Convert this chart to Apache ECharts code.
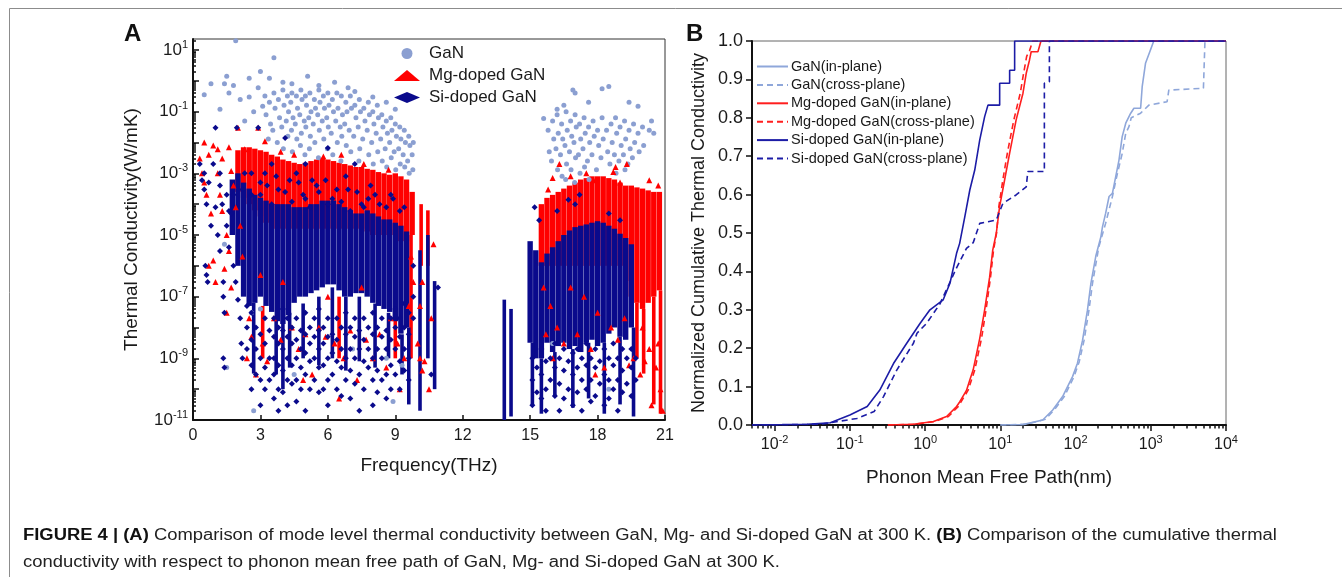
<!DOCTYPE html>
<html>
<head>
<meta charset="utf-8">
<title>Figure 4</title>
<script src="https://cdn.jsdelivr.net/npm/echarts@6.0.0/dist/echarts.min.js"></script>
<style>
html, body { margin: 0; padding: 0; background: #fff; }
#chart { width: 1342px; height: 577px; }
</style>
</head>
<body>
<div id="chart"></div>
<script>
// ---- panel A: mode level thermal conductivity, [frequency THz, W/mK] ----
const ganCloud1 = [
  [3.2,0.32],[3.25,0.08],[3.4,0.2],[3.45,0.04],[3.35,0.013],[3.6,0.4],[3.65,0.13],[3.55,0.025],
  [3.8,0.25],[3.85,0.063],[3.75,0.01],[4.0,0.5],[4.05,0.16],[3.95,0.032],[4.02,0.0063],
  [4.2,0.32],[4.25,0.1],[4.15,0.05],[4.22,0.016],[4.4,0.4],[4.35,0.2],[4.45,0.063],[4.38,0.025],[4.42,0.005],
  [4.6,0.32],[4.65,0.13],[4.55,0.04],[4.62,0.013],[4.8,0.5],[4.85,0.25],[4.75,0.08],[4.82,0.02],[4.78,0.008],
  [5.0,0.32],[5.05,0.16],[4.95,0.05],[5.02,0.032],[4.98,0.004],[5.2,0.4],[5.25,0.1],[5.15,0.063],[5.22,0.016],[5.18,0.0063],
  [5.4,0.25],[5.45,0.13],[5.35,0.04],[5.42,0.01],[5.6,0.5],[5.65,0.2],[5.55,0.08],[5.62,0.025],[5.58,0.0032],
  [5.8,0.32],[5.85,0.13],[5.75,0.05],[5.82,0.013],[6.0,0.4],[6.05,0.16],[5.95,0.063],[6.02,0.032],[5.98,0.0063],
  [6.2,0.25],[6.25,0.1],[6.15,0.02],[6.22,0.004],[6.4,0.4],[6.45,0.13],[6.35,0.05],[6.42,0.01],
  [6.6,0.32],[6.65,0.08],[6.55,0.032],[6.62,0.016],[6.58,0.0025],[6.8,0.2],[6.85,0.1],[6.75,0.04],[6.82,0.008],
  [7.0,0.32],[7.05,0.13],[6.95,0.025],[7.02,0.005],[7.2,0.16],[7.25,0.063],[7.15,0.016],
  [7.4,0.25],[7.45,0.1],[7.35,0.032],[7.42,0.0063],[7.38,0.0025],[7.6,0.13],[7.65,0.05],[7.55,0.013],
  [7.8,0.2],[7.85,0.08],[7.75,0.025],[7.82,0.004],[8.0,0.1],[8.05,0.04],[7.95,0.01],[8.02,0.002],
  [8.2,0.16],[8.25,0.063],[8.15,0.02],[8.22,0.005],[8.4,0.08],[8.45,0.032],[8.35,0.013],[8.42,0.0025],
  [8.6,0.05],[8.65,0.02],[8.55,0.0063],[8.62,0.0016],[8.8,0.063],[8.85,0.025],[8.75,0.01],[8.82,0.0032],
  [9.0,0.04],[9.05,0.016],[8.95,0.005],[9.02,0.0013],[9.2,0.032],[9.25,0.013],[9.15,0.0063],[9.22,0.002],
  [9.4,0.025],[9.45,0.01],[9.35,0.004],[9.42,0.0016],[9.6,0.016],[9.65,0.008],[9.55,0.0025],[9.62,0.001],
  [9.8,0.01],[9.75,0.004],[9.78,0.0013]
];
const ganOutliers = [
  [1.9,20],[3.6,5.6],[3.0,2],[1.5,1.4],[0.8,0.8],[1.4,0.8],[1.8,0.7],[2.5,1.2],[3.4,1.2],[5.1,1.4],
  [6.3,0.9],[7.2,0.45],[4.4,0.8],[1.6,0.4],[2.1,0.25],[2.5,0.3],[0.5,0.35],[2.9,0.6],[4.0,0.9],[5.6,0.7],
  [6.9,0.6],[8.0,0.3],[2.7,0.1],[3.1,0.15],[2.3,0.05],[1.2,0.12],[8.6,0.2],[9.0,0.12],
  [16.9,0.5],[17.0,0.4],[18.5,0.65],[18.2,0.55],[19.8,0.15],[19.4,0.2],[15.6,0.06],[20.4,0.05],[20.5,0.02],
  [16.2,0.12],[17.6,0.2],[16.5,0.16],
  [1.4,5e-6],[3.0,4e-8],[2.7,2e-11],[8.9,4e-11],[1.5,5e-10],[4.5,3e-10],[7.1,2e-9],[9.3,6e-10],
  [16.0,3e-9],[18.5,1e-10],[2.6,3e-8],[8.6,1e-9]
];
const ganCloud2 = [
  [15.8,0.025],[15.85,0.005],[16.0,0.05],[16.05,0.013],[15.95,0.0025],[16.2,0.08],[16.25,0.02],[16.15,0.0063],[16.22,0.0013],
  [16.4,0.04],[16.45,0.013],[16.35,0.004],[16.42,8e-4],[16.6,0.1],[16.65,0.025],[16.55,0.008],[16.62,0.002],[16.58,6.3e-4],
  [16.8,0.05],[16.85,0.016],[16.75,0.005],[16.82,0.0013],[17.0,0.08],[17.05,0.032],[16.95,0.01],[17.02,0.0032],[16.98,5e-4],
  [17.2,0.04],[17.25,0.013],[17.15,0.004],[17.22,0.001],[17.4,0.063],[17.45,0.02],[17.35,0.0063],[17.42,0.0016],
  [17.6,0.032],[17.65,0.01],[17.55,0.0025],[17.62,6.3e-4],[17.8,0.05],[17.85,0.016],[17.75,0.004],
  [18.0,0.025],[18.05,0.008],[17.95,0.0013],[18.2,0.063],[18.25,0.013],[18.15,0.0032],[18.4,0.025],[18.45,0.005],
  [18.6,0.04],[18.65,0.01],[18.55,0.002],[18.8,0.063],[18.85,0.02],[18.75,0.004],[18.82,0.001],
  [19.0,0.032],[19.05,0.008],[18.95,0.0025],[19.2,0.05],[19.25,0.013],[19.15,0.004],[19.22,0.0013],
  [19.4,0.025],[19.45,0.0063],[19.35,0.002],[19.6,0.04],[19.65,0.01],[19.55,0.0032],
  [19.8,0.02],[19.85,0.005],[20.0,0.032],[20.05,0.008],[20.3,0.025]
];

// dense parts of the Mg / Si clouds: [frequency, lowest, highest] of each packed column
const mgCore = [
  [2.0,2.5e-4,5.6e-3],[2.25,1.6e-4,7e-3],[2.5,1e-4,7e-3],[2.75,6.3e-5,6.3e-3],[3.0,4e-5,5.6e-3],[3.25,2.5e-5,5e-3],
  [3.5,1.6e-5,4e-3],[3.75,1.6e-5,3.5e-3],[4.0,1.6e-5,2.8e-3],[4.25,1.6e-5,2.5e-3],[4.5,1.6e-5,2.2e-3],[4.75,1.6e-5,2e-3],
  [5.0,1.6e-5,2.2e-3],[5.25,1.6e-5,2.5e-3],[5.5,1.6e-5,2.8e-3],[5.75,1.6e-5,3.2e-3],[6.0,1.6e-5,2.8e-3],[6.25,1.6e-5,2.5e-3],
  [6.5,1.6e-5,2.2e-3],[6.75,1.6e-5,2e-3],[7.0,1.6e-5,1.8e-3],[7.25,1.6e-5,1.6e-3],[7.5,1.6e-5,1.6e-3],[7.75,1.3e-5,1.4e-3],
  [8.0,1e-5,1.3e-3],[8.25,1e-5,1.1e-3],[8.5,1e-5,1e-3],[8.75,1e-5,9e-4],[9.0,1e-5,1e-3],[9.25,6.3e-6,8e-4],
  [9.5,6.3e-6,6.3e-4],[9.75,1e-5,2.5e-4],
  [15.5,1e-6,1e-4],[15.75,1e-6,1.6e-4],[16.0,1e-6,2e-4],[16.25,1e-6,2.5e-4],[16.5,1e-6,3.2e-4],[16.75,1e-6,4e-4],
  [17.0,1e-6,5e-4],[17.25,1e-6,6.3e-4],[17.5,1e-6,7e-4],[17.75,1e-6,8e-4],[18.0,1e-6,8e-4],[18.25,1e-6,8e-4],
  [18.5,1e-6,7e-4],[18.75,1e-6,6.3e-4],[19.0,1e-6,5e-4],[19.25,3.2e-7,4e-4],[19.5,1e-7,4e-4],[19.75,6.3e-8,3.5e-4],
  [20.0,4e-8,3.2e-4],[20.25,6.3e-8,2.8e-4],[20.5,1e-7,2.5e-4],[20.75,1.6e-7,2.5e-4]
];
const mgStreaks = [
  [10.15,1e-6,1e-4],[10.45,1e-6,6.3e-5],[9.7,1e-9,1e-5],[19.75,1e-9,6.3e-8],[20.05,3.2e-10,4e-8],
  [20.5,3.2e-11,1e-7],[20.8,1.6e-11,1.6e-7],[3.1,1e-9,5e-8],[6.5,1e-9,1e-7],[9.0,1e-9,1e-7]
];
const mgPts = [
  [0.5,1e-2],[0.9,8e-3],[1.1,6e-3],[2.0,3e-2],[2.9,3e-2],[3.2,1.1e-2],[1.6,7e-3],[0.7,4e-3],[1.3,3e-3],[2.3,6e-3],
  [3.9,5e-3],[4.5,4e-3],[5.8,3.5e-3],[6.6,4e-3],[7.6,2e-3],[8.7,1.3e-3],
  [0.4,1e-3],[0.6,2e-4],[0.8,5e-5],[0.7,1e-6],[0.9,1.5e-6],[1.0,3e-7],[1.2,2e-4],[1.3,6e-5],[1.5,1e-5],[1.6,3e-6],
  [1.8,4e-4],[1.9,8e-5],[2.1,2e-5],[1.4,8e-7],[1.5,3e-8],[1.7,2e-7],[2.2,2e-6],[0.5,5e-4],[1.1,1e-3],[1.7,1.2e-3],[0.3,3e-3],
  [2.5,2e-8],[2.6,5e-9],[2.4,1e-9],[3.1,3e-9],[3.3,8e-10],[3.6,2e-8],[3.9,4e-9],[4.4,1e-8],[4.7,2e-9],[5.0,6e-9],
  [5.3,3e-10],[5.6,1e-8],[5.9,5e-9],[6.3,3e-9],[6.7,1e-9],[7.0,8e-9],[7.3,2e-10],[7.7,4e-9],[8.0,1e-9],[8.3,6e-9],
  [8.6,5e-10],[8.8,2e-8],[9.1,3e-9],[9.4,1e-9],[9.6,5e-8],[9.8,3e-7],[9.7,2e-6],[3.0,5e-7],[4.0,3e-7],[6.0,1e-7],
  [7.5,2e-7],[4.9,2e-10],[6.5,5e-11],[9.2,1e-10],[2.8,3e-10],
  [10.0,3e-9],[10.1,1e-9],[10.3,8e-10],[10.6,2e-8],[10.7,5e-6],[10.2,4e-10],[10.5,1e-10],[10.2,3e-7],[10.1,5e-8],
  [16.3,2e-3],[17.5,1e-3],[18.7,1.1e-3],[18.8,1.6e-3],[19.3,2e-3],[16.8,8e-4],[17.9,6e-4],[20.3,6e-4],[20.7,4e-4],
  [15.8,3e-4],[19.0,5e-4],[16.0,7e-4],
  [15.6,2e-7],[15.9,5e-8],[16.2,1e-8],[16.5,3e-9],[16.8,2e-7],[17.1,6e-9],[17.4,1e-7],[17.7,2e-9],[18.0,3e-8],
  [18.3,5e-10],[18.6,1e-8],[18.9,4e-9],[19.2,2e-8],[19.4,6e-10],[19.6,1e-9],[19.9,3e-10],[20.1,8e-10],[20.3,2e-9],
  [20.6,5e-10],[20.8,1e-10],[20.9,2e-11],[20.4,3e-11],[16.0,1e-9],[17.9,3e-10],[15.7,6e-9],[20.0,1e-8],[20.7,3e-9]
];
const siCore = [
  [1.75,1e-5,6.3e-4],[2.0,1e-6,1e-3],[2.25,1e-7,5e-4],[2.5,5e-8,3.2e-4],[2.75,6.3e-8,2e-4],[3.0,1e-7,1.6e-4],
  [3.25,5e-8,1.3e-4],[3.5,3.2e-8,1e-4],[3.75,1.6e-8,1e-4],[4.0,1.3e-8,1e-4],[4.25,2.5e-8,1e-4],[4.5,6.3e-8,8e-5],
  [4.75,1e-7,8e-5],[5.0,1e-7,8e-5],[5.25,1.3e-7,1e-4],[5.5,1.6e-7,1e-4],[5.75,2e-7,1.3e-4],[6.0,2.5e-7,1.3e-4],
  [6.25,2.5e-7,1.3e-4],[6.5,1.6e-7,1e-4],[6.75,1e-7,8e-5],[7.0,1e-7,6.3e-5],[7.25,1.3e-7,5e-5],[7.5,1.3e-7,5e-5],
  [7.75,1e-7,6.3e-5],[8.0,6.3e-8,5e-5],[8.25,5e-8,4e-5],[8.5,4e-8,3.2e-5],[8.75,3.2e-8,3.2e-5],[9.0,1.6e-8,2.5e-5],
  [9.25,6.3e-9,2e-5],[9.5,1e-8,1.3e-5],
  [15.0,3.2e-9,6.3e-6],[15.25,1e-9,3.2e-6],[15.5,1e-9,1.3e-6],[15.75,3.2e-9,2.5e-6],[16.0,1.6e-9,4e-6],[16.25,2.5e-9,6.3e-6],
  [16.5,3.2e-9,1e-5],[16.75,2e-9,1.4e-5],[17.0,2.5e-9,1.8e-5],[17.25,1.6e-9,2e-5],[17.5,3.2e-9,2.2e-5],[17.75,4e-9,2.5e-5],
  [18.0,2.5e-9,2.8e-5],[18.25,3.2e-9,2.5e-5],[18.5,6.3e-9,2e-5],[18.75,1e-8,1.6e-5],[19.0,5e-9,1.1e-5],[19.25,4e-9,8e-6],
  [19.5,1e-8,5e-6]
];
const siStreaks = [
  [2.7,3.2e-10,6.3e-8],[4.0,1e-10,1.3e-8],[9.6,3.2e-11,1e-8],[10.1,2e-11,3.2e-6],[10.45,1e-9,1e-5],[10.75,1e-10,3.2e-7],
  [13.85,1e-11,8e-8],[14.15,1.3e-11,4e-8],[15.1,3.2e-11,3.2e-9],[15.5,1.6e-11,1e-9],[16.1,6.3e-11,1.6e-9],
  [16.9,2.5e-11,2e-9],[17.6,5e-11,3.2e-9],[18.3,1.6e-11,3.2e-9],[19.0,3.2e-11,5e-9],[19.6,1.3e-11,1e-8],
  [3.7,3e-10,2e-8],[4.3,5e-10,3e-8],[4.9,1e-9,6e-8],[5.6,6e-10,1e-7],[6.2,1e-9,2e-7],[6.8,4e-10,1e-7],
  [7.4,8e-10,1e-7],[8.1,5e-10,6e-8],[8.7,1e-9,3e-8],[9.3,3e-10,6e-9]
];
const siPts = [
  [1.0,3e-2],[1.95,3e-2],[2.9,3e-2],[4.1,1.4e-2],[6.0,6.6e-3],[0.5,1e-3],[0.3,2e-3],[0.7,5e-4],[1.2,1e-3],[1.5,2e-4],
  [2.3,1e-3],[3.5,2e-3],[4.6,1e-3],[5.3,6e-4],[6.8,8e-4],[7.9,4e-4],[8.8,2e-4],[5.0,2e-3],[3.0,5e-4],[2.6,2e-4],[7.2,2e-3],
  [3.2,1e-3],[3.8,3e-4],[4.3,6e-4],[4.9,2e-4],[5.5,4e-4],[6.2,1.5e-4],[6.9,3e-4],[7.5,1e-4],[8.1,2e-4],[8.6,8e-5],
  [9.2,6e-5],[3.5,1e-4],[5.2,8e-5],[7.0,6e-5],
  [2.6,1e-3],[3.3,4e-4],[3.7,8e-4],[4.1,2.5e-4],[4.7,5e-4],[5.0,1.5e-4],[5.6,2.5e-4],[5.9,6e-4],[6.4,3e-4],[6.6,1.2e-4],
  [7.3,2.5e-4],[7.8,1.5e-4],[8.3,1e-4],[8.9,1.5e-4],[9.4,8e-5],[4.4,1.2e-4],[6.0,1e-4],[7.6,8e-5],[3.0,2e-4],[2.2,3e-4],
  [0.4,6e-4],[0.5,3e-4],[0.6,1e-4],[0.55,1e-6],[0.6,5e-7],[0.65,3e-7],[0.8,2e-5],[1.0,8e-5],[1.1,1e-5],[1.2,3e-6],
  [1.3,1e-4],[1.35,3e-7],[1.35,1e-7],[1.4,3e-8],[1.35,1e-9],[1.4,5e-10],[1.5,2e-5],[1.6,4e-6],[1.7,5e-5],[1.8,1e-6],
  [1.9,3e-7],[2.0,8e-8],[2.1,2e-8],[2.15,3e-9],[2.2,1e-9],[1.6,6e-5],[1.8,2e-4],[1.2,4e-4],[0.9,2e-3],
  [2.4,5e-8],[2.4,1e-8],[2.4,2e-9],[2.6,3e-8],[2.6,4e-9],[2.6,6e-10],[2.6,1e-10],[2.8,1e-8],[2.8,2e-9],[2.8,3e-10],
  [3.0,6e-9],[3.0,1e-9],[3.0,2e-10],[3.0,3e-11],[3.2,2e-8],[3.2,3e-9],[3.2,5e-10],[3.2,1e-10],[3.4,8e-9],[3.4,1e-9],[3.4,2e-10],
  [3.6,2e-8],[3.6,5e-9],[3.6,1e-9],[3.6,3e-10],[3.6,5e-11],[3.8,1e-8],[3.8,3e-9],[3.8,6e-10],[3.8,1e-10],[3.8,2e-11],
  [4.0,4e-8],[4.0,8e-9],[4.0,2e-9],[4.0,4e-10],[4.0,8e-11],[4.2,2e-8],[4.2,5e-9],[4.2,1e-9],[4.2,2e-10],[4.2,3e-11],
  [4.4,1e-8],[4.4,3e-9],[4.4,6e-10],[4.4,1.5e-10],[4.6,2e-8],[4.6,4e-9],[4.6,1e-9],[4.6,2e-10],[4.6,4e-11],
  [4.8,8e-9],[4.8,2e-9],[4.8,5e-10],[4.8,1e-10],[5.0,3e-8],[5.0,6e-9],[5.0,1.5e-9],[5.0,3e-10],[5.0,2e-11],
  [5.2,1e-8],[5.2,3e-9],[5.2,8e-10],[5.2,1e-10],[5.4,2e-8],[5.4,5e-9],[5.4,1e-9],[5.4,2e-10],
  [5.6,4e-8],[5.6,8e-9],[5.6,2e-9],[5.6,5e-10],[5.6,8e-11],[5.8,1e-8],[5.8,3e-9],[5.8,6e-10],[5.8,1e-10],
  [6.0,2e-8],[6.0,5e-9],[6.0,1e-9],[6.0,2e-10],[6.0,3e-11],[6.2,6e-9],[6.2,1.5e-9],[6.2,3e-10],
  [6.4,2e-8],[6.4,4e-9],[6.4,8e-10],[6.4,1e-10],[6.6,1e-8],[6.6,2e-9],[6.6,5e-10],[6.6,6e-11],
  [6.8,3e-8],[6.8,6e-9],[6.8,1e-9],[6.8,2e-10],[7.0,1e-8],[7.0,2e-9],[7.0,4e-10],[7.0,5e-11],
  [7.2,2e-8],[7.2,5e-9],[7.2,1e-9],[7.2,1.5e-10],[7.4,8e-9],[7.4,2e-9],[7.4,3e-10],[7.4,2e-11],
  [7.6,2e-8],[7.6,4e-9],[7.6,8e-10],[7.6,1e-10],[7.8,1e-8],[7.8,2e-9],[7.8,5e-10],
  [8.0,3e-8],[8.0,6e-9],[8.0,1e-9],[8.0,2e-10],[8.0,3e-11],[8.2,1e-8],[8.2,2e-9],[8.2,4e-10],[8.2,8e-11],
  [8.4,2e-8],[8.4,5e-9],[8.4,1e-9],[8.4,2e-10],[8.6,8e-9],[8.6,2e-9],[8.6,3e-10],[8.6,5e-11],
  [8.8,2e-8],[8.8,4e-9],[8.8,6e-10],[8.8,1e-10],[9.0,4e-8],[9.0,1e-8],[9.0,2e-9],[9.0,3e-10],
  [9.2,2e-8],[9.2,5e-9],[9.2,8e-10],[9.2,1e-10],[9.4,6e-8],[9.4,1e-8],[9.4,2e-9],[9.4,4e-10],
  [9.6,3e-8],[9.6,6e-9],[9.6,1e-9],[9.6,2e-10],[9.8,1e-6],[9.8,1e-7],[9.8,2e-8],[10.9,2e-7],[10.6,3e-10],
  [15.2,8e-5],[16.7,1.4e-4],[17.0,1e-4],[17.2,2e-4],[15.4,3e-5],[18.5,5e-5],[19.0,3e-5],[16.2,6e-5],
  [15.1,1e-9],[15.1,2e-10],[15.1,3e-11],[15.3,5e-10],[15.3,8e-11],[15.5,2e-9],[15.5,3e-10],[15.5,5e-11],
  [15.7,8e-10],[15.7,1e-10],[15.7,2e-11],[15.9,1e-9],[15.9,2e-10],[16.1,3e-9],[16.1,5e-10],[16.1,6e-11],
  [16.3,1e-9],[16.3,1.5e-10],[16.3,2e-11],[16.5,2e-9],[16.5,4e-10],[16.5,5e-11],[16.7,8e-10],[16.7,1e-10],
  [16.9,1.5e-9],[16.9,3e-10],[16.9,3e-11],[17.1,2e-9],[17.1,5e-10],[17.1,8e-11],[17.3,1e-9],[17.3,2e-10],[17.3,2e-11],
  [17.5,3e-9],[17.5,6e-10],[17.5,1e-10],[17.7,1e-9],[17.7,2e-10],[17.7,4e-11],[17.9,2e-9],[17.9,5e-10],[17.9,6e-11],
  [18.1,8e-10],[18.1,1.5e-10],[18.3,2e-9],[18.3,3e-10],[18.3,3e-11],[18.5,1e-9],[18.5,2e-10],[18.5,5e-11],
  [18.7,3e-9],[18.7,6e-10],[18.7,1e-10],[18.9,1e-9],[18.9,2e-10],[18.9,2e-11],[19.1,2e-9],[19.1,4e-10],[19.1,8e-11],
  [19.3,1e-9],[19.3,1.5e-10],[19.5,2e-9],[19.5,5e-10],[19.5,6e-11],[19.7,1e-9],[19.7,2e-10]
];

// ---- panel B: normalized cumulative conductivity vs mean free path, [nm, fraction] ----
const ganIn = [
  [10,0],[20,0.001],[36.6,0.013],[49.7,0.039],[67.3,0.074],[91.2,0.126],[106,0.161],[124,0.221],[144,0.299],
  [160,0.369],[186,0.44],[217,0.49],[228,0.516],[251,0.551],[279,0.595],[309,0.603],[342,0.647],[378,0.69],
  [417,0.751],[465,0.786],[541,0.812],[597,0.825],[733,0.825],[769,0.881],[851,0.942],[993,0.977],[1096,1],[10000,1]
];
const ganCross = [
  [10,0],[22.4,0.002],[39.8,0.015],[52.5,0.04],[70.8,0.074],[95.5,0.126],[112,0.165],[130,0.221],[151,0.3],
  [168,0.369],[204,0.464],[251,0.525],[309,0.595],[360,0.655],[417,0.707],[465,0.76],[513,0.777],[550,0.8],
  [733,0.812],[944,0.833],[1648,0.842],[1738,0.872],[5012,0.877],[5250,1],[10000,1]
];
const mgIn = [
  [0.32,0],[0.7,0.002],[1.29,0.009],[1.93,0.022],[2.62,0.048],[2.88,0.06],[3.55,0.09],[3.93,0.117],[4.35,0.143],
  [5.01,0.2],[5.32,0.225],[6.19,0.3],[7.21,0.385],[7.94,0.456],[8.85,0.5],[9.77,0.568],[11.4,0.638],[13.3,0.708],
  [16.2,0.794],[20,0.864],[22.1,0.916],[24.4,0.95],[25.7,0.972],[31.6,0.972],[34.7,1],[10000,1]
];
const mgCross = [
  [0.32,0],[0.74,0.002],[1.35,0.009],[2.04,0.022],[2.75,0.048],[3.72,0.09],[4.57,0.143],[5.62,0.225],[6.46,0.3],
  [7.41,0.385],[8.13,0.456],[8.91,0.5],[9.55,0.568],[10.8,0.638],[12.4,0.708],[15.1,0.794],[18.4,0.864],
  [20.4,0.916],[22.4,0.96],[24.5,0.975],[26.9,1],[10000,1]
];
const siIn = [
  [0.005,0],[0.0126,0.001],[0.027,0.002],[0.055,0.006],[0.1,0.026],[0.17,0.048],[0.25,0.091],[0.38,0.16],
  [0.57,0.213],[0.86,0.265],[1.16,0.3],[1.74,0.326],[2.14,0.369],[2.62,0.447],[2.88,0.473],[3.37,0.542],
  [3.93,0.612],[4.57,0.664],[5.32,0.742],[6.19,0.803],[6.85,0.833],[9.8,0.833],[9.8,0.89],[13.3,0.89],
  [13.3,0.924],[15.5,0.924],[15.5,1],[10000,1]
];
const siCross = [
  [0.005,0],[0.02,0.001],[0.041,0.002],[0.124,0.017],[0.21,0.035],[0.28,0.074],[0.42,0.143],[0.7,0.213],
  [0.78,0.239],[1.05,0.265],[1.57,0.315],[2.63,0.41],[3.55,0.46],[4.37,0.475],[5.32,0.525],[8.85,0.534],
  [10.8,0.577],[16.2,0.599],[22.1,0.62],[23.2,0.66],[38.5,0.66],[38.5,0.89],[44.9,0.894],[44.9,1],[10000,1]
];

// tick values
const kDecades = [1e-11,1e-10,1e-9,1e-8,1e-7,1e-6,1e-5,1e-4,1e-3,1e-2,1e-1,1,10];
const kLabels = [1e-11,1e-9,1e-7,1e-5,1e-3,1e-1,10];
const mfpDecades = [0.01,0.1,1,10,100,1000,10000];
const minorSteps = [2,3,4,5,6,7,8,9];

const captionLine1 = '{b|FIGURE 4 | (A)} Comparison of mode level thermal conductivity between GaN, Mg- and Si-doped GaN at 300 K. {b|(B)} Comparison of the cumulative thermal';
const captionLine2 = 'conductivity with respect to phonon mean free path of GaN, Mg- and Si-doped GaN at 300 K.';

const FONT = '"Liberation Sans", Arial, Helvetica, sans-serif';
const INK = '#1a1a1a';
const GAN = '#8b9fd1', MG = '#ff0000', SI = '#0a0a8c';
const GAN_L = '#8fa7da', MG_L = '#ff1e1e', SI_L = '#1c1ca6';

function minorOf(decades) {
  const out = [];
  decades.forEach(d => minorSteps.forEach(s => out.push(d * s)));
  return out;
}
const kMinor = minorOf([1e-11,1e-10,1e-9,1e-8,1e-7,1e-6,1e-5,1e-4,1e-3,1e-2,1e-1,1,10]);
const mfpMinor = minorOf([0.001,0.01,0.1,1,10,100,1000]);

function powLabel(v) {
  return '10{sup|' + Math.round(Math.log10(v)) + '}';
}
const supRich = { sup: { fontSize: 11, lineHeight: 12, verticalAlign: 'top', fontFamily: FONT, color: INK } };

// packed columns drawn as narrow rectangles through the axes
function strip(width) {
  return function (params, api) {
    const a = api.coord([api.value(0) - width / 2, api.value(2)]);
    const b = api.coord([api.value(0) + width / 2, api.value(1)]);
    return {
      type: 'rect',
      shape: { x: a[0], y: a[1], width: b[0] - a[0], height: b[1] - a[1] },
      style: { fill: api.visual('color') }
    };
  };
}

const chart = echarts.init(document.getElementById('chart'), null, { renderer: 'canvas' });

const axisLine = { lineStyle: { color: '#111', width: 2 } };
const tickStyle = { color: '#111', width: 1.5 };

function scatter(name, data, color, symbol, size) {
  return { type: 'scatter', name, data, xAxisIndex: 0, yAxisIndex: 0, symbol, symbolSize: size,
    itemStyle: { color, opacity: 1 }, silent: true };
}
function band(name, data, color, width) {
  return { type: 'custom', name, data, xAxisIndex: 0, yAxisIndex: 0, renderItem: strip(width),
    encode: { x: 0, y: [1, 2] }, itemStyle: { color }, silent: true };
}
function curve(name, data, color, dashed) {
  return { type: 'line', name, data, xAxisIndex: 1, yAxisIndex: 2, symbol: 'none', showSymbol: false,
    lineStyle: { color, width: 1.6, type: dashed ? [6, 4] : 'solid' }, itemStyle: { color } };
}

const option = {
  animation: false,
  backgroundColor: '#fff',
  textStyle: { fontFamily: FONT, color: INK },
  grid: [
    { left: 193, top: 39, width: 472, height: 381, show: true, borderColor: '#333', borderWidth: 1,
      backgroundColor: 'transparent', outerBoundsMode: 'none' },
    { left: 752, top: 41, width: 474, height: 384, show: true, borderColor: '#666', borderWidth: 1,
      backgroundColor: 'transparent', outerBoundsMode: 'none' }
  ],
  legend: [
    { data: ['GaN', 'Mg-doped GaN', 'Si-doped GaN'], orient: 'vertical', left: 394, top: 45, padding: 0,
      itemWidth: 26, itemHeight: 11, itemGap: 5, selectedMode: false,
      textStyle: { fontSize: 17, color: INK, fontFamily: FONT, padding: [0, 0, 0, 4] } },
    { data: ['GaN(in-plane)', 'GaN(cross-plane)', 'Mg-doped GaN(in-plane)', 'Mg-doped GaN(cross-plane)',
        'Si-doped GaN(in-plane)', 'Si-doped GaN(cross-plane)'],
      orient: 'vertical', left: 756, top: 59, padding: 0, itemWidth: 31, itemHeight: 10, itemGap: 3.4,
      selectedMode: false, itemStyle: { opacity: 0 },
      textStyle: { fontSize: 14.5, color: INK, fontFamily: FONT, padding: [0, 0, 0, -2] } }
  ],
  xAxis: [
    { gridIndex: 0, type: 'value', min: 0, max: 21, interval: 3, axisLine,
      axisTick: { inside: true, length: 5, lineStyle: tickStyle },
      axisLabel: { fontSize: 16, color: INK, margin: 8, fontFamily: FONT },
      splitLine: { show: false },
      name: 'Frequency(THz)', nameLocation: 'middle', nameGap: 36,
      nameTextStyle: { fontSize: 19, color: INK, fontFamily: FONT } },
    { gridIndex: 1, type: 'log', logBase: 10, min: 0.005, max: 10000, position: 'bottom', axisLine,
      axisTick: { customValues: mfpDecades, length: 6, lineStyle: tickStyle },
      axisLabel: { customValues: mfpDecades, formatter: powLabel, rich: supRich, fontSize: 16, lineHeight: 22,
        color: INK, margin: 9, fontFamily: FONT },
      splitLine: { show: false },
      name: 'Phonon Mean Free Path(nm)', nameLocation: 'middle', nameGap: 43,
      nameTextStyle: { fontSize: 19, color: INK, fontFamily: FONT } },
    { gridIndex: 1, type: 'log', logBase: 10, min: 0.005, max: 10000, position: 'bottom',
      axisLine: { show: false },
      axisTick: { customValues: mfpMinor, length: 3.5, lineStyle: tickStyle },
      axisLabel: { show: false }, splitLine: { show: false } }
  ],
  yAxis: [
    { gridIndex: 0, type: 'log', logBase: 10, min: 1e-11, max: 22.7, position: 'left', axisLine,
      axisTick: { inside: true, customValues: kDecades, length: 6, lineStyle: tickStyle },
      axisLabel: { customValues: kLabels, formatter: powLabel, rich: supRich, fontSize: 17, lineHeight: 22,
        color: INK, margin: 5, fontFamily: FONT },
      splitLine: { show: false },
      name: 'Thermal Conductivity(W/mK)', nameLocation: 'middle', nameGap: 52,
      nameTextStyle: { fontSize: 19, color: INK, fontFamily: FONT } },
    { gridIndex: 0, type: 'log', logBase: 10, min: 1e-11, max: 22.7, position: 'left',
      axisLine: { show: false },
      axisTick: { inside: true, customValues: kMinor, length: 3, lineStyle: tickStyle },
      axisLabel: { show: false }, splitLine: { show: false } },
    { gridIndex: 1, type: 'value', min: 0, max: 1, interval: 0.1, position: 'left', axisLine,
      axisTick: { length: 6, lineStyle: tickStyle },
      axisLabel: { formatter: v => v.toFixed(1), fontSize: 18, color: INK, margin: 9, fontFamily: FONT },
      splitLine: { show: false },
      name: 'Normalized Cumulative Thermal Conductivity', nameLocation: 'middle', nameGap: 44,
      nameTextStyle: { fontSize: 18, color: INK, fontFamily: FONT } }
  ],
  series: [
    scatter('GaN', ganCloud1.concat(ganCloud2, ganOutliers), GAN, 'circle', 5),
    band('Mg core', mgCore, MG, 0.24),
    band('Mg streaks', mgStreaks, MG, 0.16),
    scatter('Mg-doped GaN', mgPts, MG, 'triangle', 6),
    band('Si core', siCore, SI, 0.24),
    band('Si streaks', siStreaks, SI, 0.16),
    scatter('Si-doped GaN', siPts, SI, 'diamond', 6),
    curve('GaN(in-plane)', ganIn, GAN_L, false),
    curve('GaN(cross-plane)', ganCross, GAN_L, true),
    curve('Mg-doped GaN(in-plane)', mgIn, MG_L, false),
    curve('Mg-doped GaN(cross-plane)', mgCross, MG_L, true),
    curve('Si-doped GaN(in-plane)', siIn, SI_L, false),
    curve('Si-doped GaN(cross-plane)', siCross, SI_L, true)
  ],
  graphic: [
    { type: 'line', silent: true, shape: { x1: 9.5, y1: 8.5, x2: 1342, y2: 8.5 }, style: { stroke: '#8c8c8c', lineWidth: 1 } },
    { type: 'line', silent: true, shape: { x1: 9.5, y1: 8.5, x2: 9.5, y2: 577 }, style: { stroke: '#8c8c8c', lineWidth: 1 } },
    { type: 'text', left: 124, top: 22, silent: true,
      style: { text: 'A', fontSize: 24, fontWeight: 'bold', fontFamily: FONT, fill: '#111' } },
    { type: 'text', left: 686, top: 22, silent: true,
      style: { text: 'B', fontSize: 24, fontWeight: 'bold', fontFamily: FONT, fill: '#111' } },
    { type: 'text', x: 23, y: 528, scaleX: 1.15, silent: true,
      style: { text: captionLine1, x: 0, y: 0, verticalAlign: 'top', fontSize: 16, fontFamily: FONT, fill: '#222',
        rich: { b: { fontSize: 16, fontFamily: FONT, fontWeight: 'bold', fill: '#111' } } } },
    { type: 'text', x: 23, y: 555, scaleX: 1.15, silent: true,
      style: { text: captionLine2, x: 0, y: 0, verticalAlign: 'top', fontSize: 16, fontFamily: FONT, fill: '#222' } }
  ]
};

chart.setOption(option);
</script>
</body>
</html>
